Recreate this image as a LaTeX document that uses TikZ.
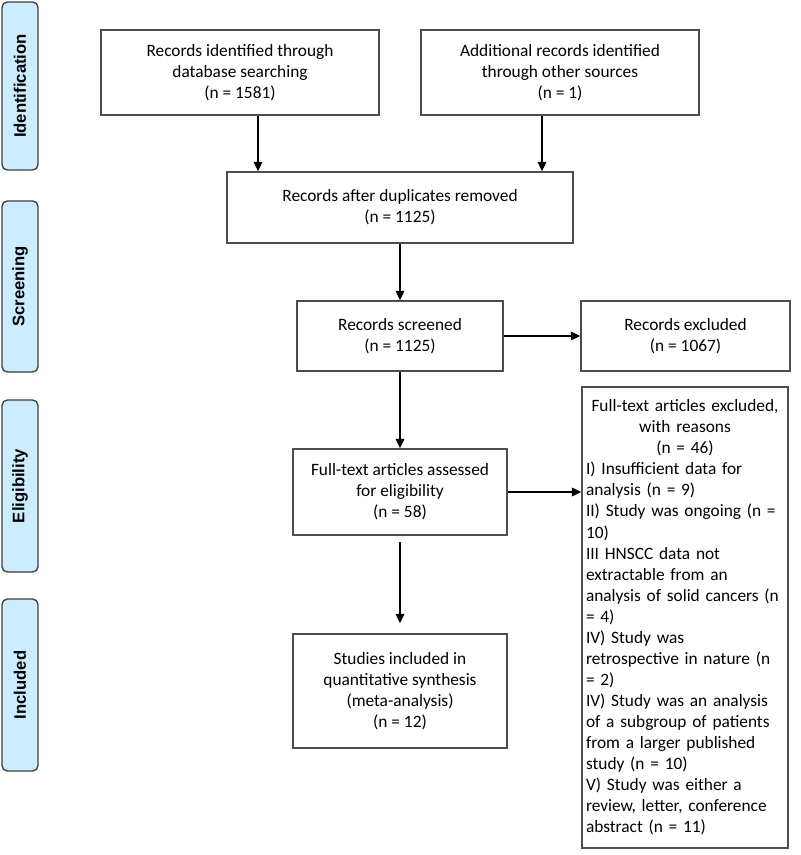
\documentclass[tikz,border=0pt]{standalone}
\usepackage{fontspec}
\setmainfont{Carlito}
\newfontfamily\stagefont{Liberation Sans}
\usepackage{tikz}
\usetikzlibrary{arrows.meta}
\usepackage{xcolor}
\definecolor{ColFrame}{RGB}{77,77,77}
\definecolor{ColStage}{RGB}{204,236,255}
\setlength{\parindent}{0pt}
\tikzstyle{BoxFlow}=[rectangle,draw=ColFrame,line width=1.2pt,fill=white,align=center,
inner sep=3pt,font=\fontsize{13}{15.8}\selectfont]
\tikzstyle{StageTag}=[rectangle,rounded corners=4pt,draw=ColFrame!80!black,line width=1pt,
fill=ColStage,rotate=90,minimum height=27pt,font=\stagefont\bfseries\fontsize{12.5}{14}\selectfont]
\tikzstyle{ArrowFlow}=[black,line width=1.1pt,-{Triangle[length=7pt,width=6.5pt]}]

\begin{document}
\begin{tikzpicture}[x=0.75pt,y=-0.75pt]
        \useasboundingbox (0,0) rectangle (800,855);
        \node[StageTag,minimum width=126pt](sid)at(20,86){Identification};
        \node[StageTag,minimum width=128.25pt](sscr)at(20,286.5){Screening};
        \node[StageTag,minimum width=129pt](selg)at(20,486){Eligibility};
        \node[StageTag,minimum width=129pt](sinc)at(20,685){Included};
        \node[BoxFlow,minimum width=208.5pt,minimum height=63.75pt](db)at(240,72.5)
            {Records identified through\\database searching\\(n = 1581)};
        \node[BoxFlow,minimum width=208.5pt,minimum height=63.75pt](oth)at(560,72.5)
            {Additional records identified\\through other sources\\(n = 1)};
        \node[BoxFlow,minimum width=259.5pt,minimum height=53.25pt](dup)at(400,207.5)
            {Records after duplicates removed\\(n = 1125)};
        \node[BoxFlow,minimum width=154.5pt,minimum height=52.5pt](scr)at(400,336)
            {Records screened\\(n = 1125)};
        \node[BoxFlow,minimum width=156.75pt,minimum height=52.5pt](exc)at(685.5,336)
            {Records excluded\\(n = 1067)};
        \node[BoxFlow,minimum width=160.5pt,minimum height=64.5pt](full)at(400,492)
            {Full-text articles assessed\\for eligibility\\(n = 58)};
        \node[BoxFlow,minimum width=160.5pt,minimum height=85.5pt](incl)at(400,691)
            {Studies included in\\quantitative synthesis\\(meta-analysis)\\(n = 12)};
        \node[BoxFlow,text width=148.5pt,minimum height=345.75pt,align=left](fexc)at(685,617.5)
            {{\centering Full-text articles excluded,\\with reasons\\(n = 46)\par}
            I) Insufficient data for\\analysis (n = 9)\\II) Study was ongoing (n =\\10)\\
            III HNSCC data not\\extractable from an\\analysis of solid cancers (n\\= 4)\\
            IV) Study was\\retrospective in nature (n\\= 2)\\
            IV) Study was an analysis\\of a subgroup of patients\\from a larger published\\study (n = 10)\\
            V) Study was either a\\review, letter, conference\\abstract (n = 11)};
        \draw[ArrowFlow]([xshift=13.5pt]db.south)--([xshift=13.5pt]db.south|-dup.north);
        \draw[ArrowFlow]([xshift=-13.5pt]oth.south)--([xshift=-13.5pt]oth.south|-dup.north);
        \draw[ArrowFlow](dup)--(scr);
        \draw[ArrowFlow](scr)--(exc);
        \draw[ArrowFlow](scr)--(full);
        \draw[ArrowFlow](full.east)--(full.east-|fexc.west);
        \draw[ArrowFlow,shorten <=5pt,shorten >=7.5pt](full)--(incl);
    \end{tikzpicture}
\end{document}
